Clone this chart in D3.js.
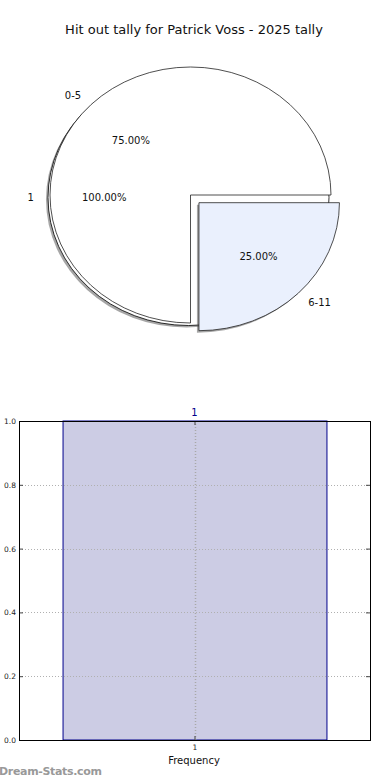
<!DOCTYPE html>
<html>
<head>
<meta charset="utf-8">
<script src="https://cdn.jsdelivr.net/npm/d3@7"></script>
<style>
  body { margin: 0; background: #fff; }
  svg { display: block; font-family: "DejaVu Sans", sans-serif; }
  .ns { vector-effect: non-scaling-stroke; }
</style>
</head>
<body>
<svg id="chart" width="390" height="780"></svg>
<script>
// data
const title = 'Hit out tally for Patrick Voss - 2025 tally';
const outerLabels = ['1'];
const outerValues = [1];
const innerLabels = ['0-5', '6-11'];
const innerValues = [3, 1];
const innerExplode = [0, 0.085];
const innerColors = ['#ffffff', '#eaf0fd'];
const barCategories = [1];
const barValues = [1];
const yTicks = [0, 0.2, 0.4, 0.6, 0.8, 1.0];

const svg = d3.select('#chart');

svg.append('text')
  .attr('x', 194).attr('y', 34)
  .attr('text-anchor', 'middle')
  .attr('font-size', 13)
  .attr('fill', '#111')
  .text(title);

// ---- pie ----
const cx = 190.5, cy = 195, rx = 140.5, ry = 128;
const k = ry / rx;
// the outer pie sits a little lower-left of the inner one
const outerShift = [-2, 2.5];

// matplotlib style: start east, go counter-clockwise
const pie = d3.pie().sort(null).startAngle(Math.PI / 2).endAngle(Math.PI / 2 - 2 * Math.PI);
const arc = d3.arc().innerRadius(0).outerRadius(rx);

const outerArcs = pie(outerValues);
const innerArcs = pie(innerValues);

const pieG = svg.append('g').attr('transform', `translate(${cx},${cy}) scale(1,${k})`);

function explodeOffset(d, e) {
  const a = (d.startAngle + d.endAngle) / 2;
  return [e * rx * Math.sin(a), -e * rx * Math.cos(a)];
}

// shadow of the outer pie
pieG.append('path')
  .attr('d', arc(outerArcs[0]))
  .attr('transform', `translate(${outerShift[0] - 2},${(outerShift[1] + 2) / k})`)
  .attr('fill', '#4d4d4d')
  .attr('opacity', 0.5);

pieG.selectAll('.outer')
  .data(outerArcs)
  .join('path')
  .attr('class', 'outer ns')
  .attr('d', arc)
  .attr('transform', `translate(${outerShift[0]},${outerShift[1] / k})`)
  .attr('fill', '#fff')
  .attr('stroke', '#000')
  .attr('stroke-width', 0.8);

// inner pie wedges
innerArcs.forEach((d, i) => {
  const [ox, oy] = explodeOffset(d, innerExplode[i]);
  if (innerExplode[i] > 0) {
    pieG.append('path')
      .attr('d', arc(d))
      .attr('transform', `translate(${ox - 2},${oy + 2 / k})`)
      .attr('fill', '#4d4d4d')
      .attr('opacity', 0.5);
  }
  pieG.append('path')
    .attr('class', 'ns')
    .attr('d', arc(d))
    .attr('transform', `translate(${ox},${oy})`)
    .attr('fill', innerColors[i])
    .attr('stroke', '#222')
    .attr('stroke-width', 0.8);
});

// pie labels
function pieLabels(arcs, labels, explode, shift) {
  const total = d3.sum(arcs, e => e.value);
  arcs.forEach((d, i) => {
    const a = (d.startAngle + d.endAngle) / 2;
    const [ox, oy] = explodeOffset(d, explode[i]);
    const sx = Math.sin(a), sy = -Math.cos(a);
    const lx = cx + shift[0] + ox + 1.1 * rx * sx;
    const ly = cy + shift[1] + k * (oy + 1.1 * rx * sy);
    svg.append('text')
      .attr('x', lx).attr('y', ly)
      .attr('text-anchor', sx < -1e-9 ? 'end' : 'start')
      .attr('dominant-baseline', 'central')
      .attr('font-size', 10)
      .attr('fill', '#111')
      .text(labels[i]);
    const px = cx + shift[0] + ox + 0.6 * rx * sx;
    const py = cy + shift[1] + k * (oy + 0.6 * rx * sy);
    svg.append('text')
      .attr('x', px).attr('y', py)
      .attr('text-anchor', 'middle')
      .attr('dominant-baseline', 'central')
      .attr('font-size', 10)
      .attr('fill', '#111')
      .text((100 * d.value / total).toFixed(2) + '%');
  });
}
pieLabels(outerArcs, outerLabels, [0], outerShift);
pieLabels(innerArcs, innerLabels, innerExplode, [0, 0]);

// ---- bar chart ----
const plotL = 19, plotR = 370, plotT = 421, plotB = 740;
const x = d3.scaleLinear().domain([0.468, 1.532]).range([plotL, plotR]);
const y = d3.scaleLinear().domain([0, 1]).range([plotB, plotT]);
const barW = 0.8;

svg.selectAll('.bar')
  .data(barValues)
  .join('rect')
  .attr('class', 'bar')
  .attr('x', (d, i) => x(barCategories[i] - barW / 2) + 0.5)
  .attr('width', (d, i) => x(barCategories[i] + barW / 2) - x(barCategories[i] - barW / 2))
  .attr('y', d => y(d))
  .attr('height', d => y(0) - y(d))
  .attr('fill', '#ccccE4')
  .attr('stroke', '#00008b')
  .attr('stroke-width', 1);

// grid drawn over the bar, as in the original
const grid = svg.append('g').attr('stroke', '#b0b0b0').attr('stroke-dasharray', '1,2').attr('stroke-width', 1);
grid.selectAll('.gy').data(yTicks).join('line')
  .attr('x1', plotL).attr('x2', plotR)
  .attr('y1', d => Math.round(y(d)) + 0.5).attr('y2', d => Math.round(y(d)) + 0.5);
grid.selectAll('.gx').data(barCategories).join('line')
  .attr('stroke', '#a8a8a8').attr('stroke-width', 1.5)
  .attr('x1', d => Math.round(x(d)) + 0.5).attr('x2', d => Math.round(x(d)) + 0.5)
  .attr('y1', plotT).attr('y2', plotB);

svg.selectAll('.val')
  .data(barValues)
  .join('text')
  .attr('class', 'val')
  .attr('x', (d, i) => x(barCategories[i]))
  .attr('y', d => y(d) - 5)
  .attr('text-anchor', 'middle')
  .attr('font-size', 10)
  .attr('fill', '#00008b')
  .text(d => d);

const yAxisL = svg.append('g').attr('transform', `translate(${plotL},0)`)
  .call(d3.axisLeft(y).tickValues(yTicks).tickFormat(d3.format('.1f')).tickSize(-4).tickPadding(3));
const yAxisR = svg.append('g').attr('transform', `translate(${plotR},0)`)
  .call(d3.axisRight(y).tickValues(yTicks).tickFormat('').tickSize(-4));
const xAxisB = svg.append('g').attr('transform', `translate(0,${plotB})`)
  .call(d3.axisBottom(x).tickValues(barCategories).tickFormat(d3.format('d')).tickSize(-4).tickPadding(3));
const xAxisT = svg.append('g').attr('transform', `translate(0,${plotT})`)
  .call(d3.axisTop(x).tickValues(barCategories).tickFormat('').tickSize(-4));

[yAxisL, yAxisR, xAxisB, xAxisT].forEach(g => {
  g.select('.domain').remove();
  g.selectAll('.tick line').attr('stroke', '#444');
  g.selectAll('.tick text').attr('font-size', 7.5).attr('fill', '#222').attr('font-family', '"DejaVu Sans", sans-serif');
});
xAxisB.selectAll('.tick text').attr('dy', '0.9em');

svg.append('rect')
  .attr('x', plotL + 0.5).attr('y', plotT + 0.5)
  .attr('width', plotR - plotL).attr('height', plotB - plotT)
  .attr('fill', 'none').attr('stroke', '#000').attr('stroke-width', 1);

svg.append('text')
  .attr('x', 194).attr('y', 764)
  .attr('text-anchor', 'middle')
  .attr('font-size', 10)
  .attr('fill', '#111')
  .text('Frequency');

svg.append('text')
  .attr('x', -1).attr('y', 775)
  .attr('font-size', 11)
  .attr('font-weight', 600)
  .attr('fill', '#999')
  .attr('textLength', 103)
  .text('Dream-Stats.com');
</script>
</body>
</html>
